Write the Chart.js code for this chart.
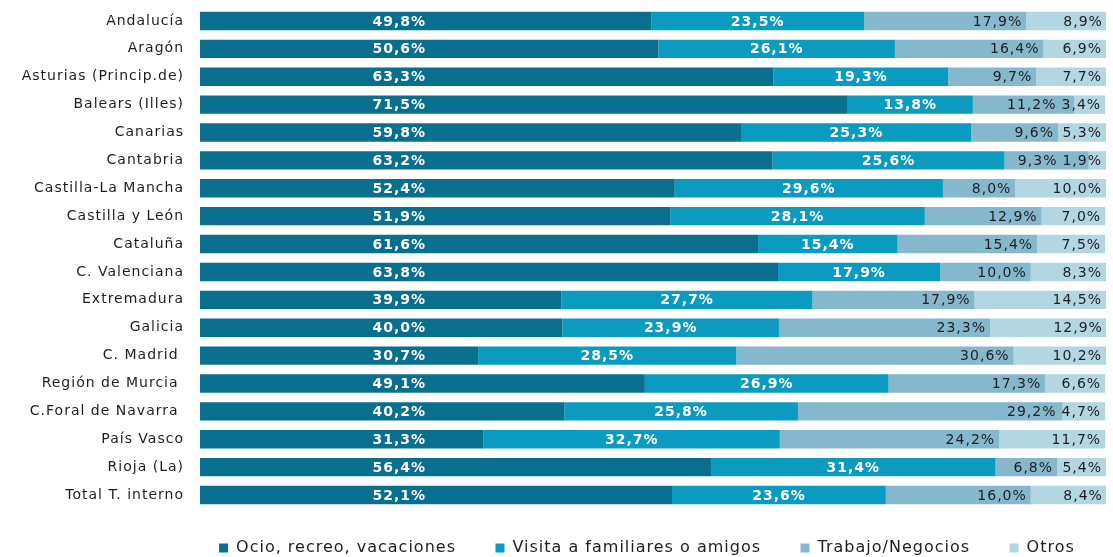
<!DOCTYPE html>
<html lang="es">
<head>
<meta charset="utf-8">
<title>Motivo del viaje por comunidad</title>
<script src="https://cdn.jsdelivr.net/npm/chart.js@4.4.1/dist/chart.umd.min.js"></script>
<style>
    html, body { margin: 0; padding: 0; background: #ffffff; }
    #wrap { width: 1113px; height: 557px; position: relative; }
</style>
</head>
<body>
<div id="wrap"><canvas id="motivoChart"></canvas></div>
<script>
// Datos (porcentaje por motivo del viaje)
const regiones = [
    'Andalucía', 'Aragón', 'Asturias (Princip.de)', 'Balears (Illes)', 'Canarias',
    'Cantabria', 'Castilla-La Mancha', 'Castilla y León', 'Cataluña', 'C. Valenciana',
    'Extremadura', 'Galicia', 'C. Madrid ', 'Región de Murcia ', 'C.Foral de Navarra ',
    'País Vasco', 'Rioja (La)', 'Total T. interno'
];
const ocio = [49.8, 50.6, 63.3, 71.5, 59.8, 63.2, 52.4, 51.9, 61.6, 63.8, 39.9, 40.0, 30.7, 49.1, 40.2, 31.3, 56.4, 52.1];
const visita = [23.5, 26.1, 19.3, 13.8, 25.3, 25.6, 29.6, 28.1, 15.4, 17.9, 27.7, 23.9, 28.5, 26.9, 25.8, 32.7, 31.4, 23.6];
const trabajo = [17.9, 16.4, 9.7, 11.2, 9.6, 9.3, 8.0, 12.9, 15.4, 10.0, 17.9, 23.3, 30.6, 17.3, 29.2, 24.2, 6.8, 16.0];
const otros = [8.9, 6.9, 7.7, 3.4, 5.3, 1.9, 10.0, 7.0, 7.5, 8.3, 14.5, 12.9, 10.2, 6.6, 4.7, 11.7, 5.4, 8.4];

const FONT = '"DejaVu Sans", Verdana, sans-serif';
const colores = ['#086f8f', '#0b9bc0', '#86b8cd', '#b3d6e3'];

function fmt(v) {
    return v.toFixed(1).replace('.', ',') + '%';
}

// espaciado de letras como en el original
const letterSpacing = {
    id: 'letterSpacing',
    beforeLayout(chart) { chart.ctx.letterSpacing = '1px'; },
    beforeDraw(chart) { chart.ctx.letterSpacing = '1px'; }
};

// Etiquetas de los segmentos
const barLabels = {
    id: 'barLabels',
    afterDatasetsDraw(chart) {
        const ctx = chart.ctx;
        const xScale = chart.scales.x;
        const metas = chart.data.datasets.map((d, i) => chart.getDatasetMeta(i));

        ctx.save();
        ctx.letterSpacing = '1px';
        ctx.textBaseline = 'middle';

        regiones.forEach((r, j) => {
            const y = metas[0].data[j].y + 1;

            // Ocio: blanco, negrita
            ctx.font = 'bold 14px ' + FONT;
            ctx.fillStyle = '#ffffff';
            ctx.textAlign = 'center';
            ctx.fillText(fmt(ocio[j]), xScale.getPixelForValue(22), y);

            // Visita: blanco, negrita, centrado en el segmento
            const b2 = metas[1].data[j];
            ctx.fillText(fmt(visita[j]), (b2.base + b2.x) / 2, y);

            // Otros y Trabajo: oscuro, alineado a la derecha
            ctx.font = '14px ' + FONT;
            ctx.fillStyle = '#1e1e1e';
            ctx.textAlign = 'right';
            const b4 = metas[3].data[j];
            const t4 = fmt(otros[j]);
            const x4 = b4.x - 4;
            ctx.fillText(t4, x4, y);
            const inicio4 = x4 - ctx.measureText(t4).width;

            const b3 = metas[2].data[j];
            const x3 = Math.min(b3.x - 4, inicio4 - 5);
            ctx.fillText(fmt(trabajo[j]), x3, y);
        });
        ctx.restore();
    }
};

function makeDataset(label, data, color) {
    return {
        label: label,
        data: data,
        backgroundColor: color,
        borderWidth: 0,
        barPercentage: 0.66,
        categoryPercentage: 1.0
    };
}

new Chart(document.getElementById('motivoChart'), {
    type: 'bar',
    data: {
        labels: regiones,
        datasets: [
            makeDataset('Ocio, recreo, vacaciones', ocio, colores[0]),
            makeDataset('Visita a familiares o amigos', visita, colores[1]),
            makeDataset('Trabajo/Negocios', trabajo, colores[2]),
            makeDataset('Otros', otros, colores[3])
        ]
    },
    options: {
        indexAxis: 'y',
        responsive: true,
        maintainAspectRatio: false,
        animation: false,
        layout: { padding: { top: 7, right: 7, bottom: -9, left: 0 } },
        scales: {
            x: {
                stacked: true,
                min: 0,
                max: 100,
                display: false
            },
            y: {
                stacked: true,
                grid: { display: false },
                border: { display: false },
                ticks: {
                    padding: 8,
                    color: '#1e1e1e',
                    font: { family: FONT, size: 14 }
                },
                afterFit(scale) {
                    scale.width = 200;
                    scale.paddingTop = 0;
                    scale.paddingBottom = 0;
                }
            }
        },
        plugins: {
            legend: {
                position: 'bottom',
                fullSize: false,
                title: {
                    display: true,
                    text: ' ',
                    font: { size: 10 },
                    padding: { top: 16, bottom: 0 }
                },
                labels: {
                    boxWidth: 9,
                    boxHeight: 9,
                    padding: 3,
                    color: '#1e1e1e',
                    font: { family: FONT, size: 16, lineHeight: 1 },
                    generateLabels(chart) {
                        const items = Chart.defaults.plugins.legend.labels.generateLabels(chart);
                        items.forEach((it, i) => {
                            it.text = it.text + (i < items.length - 1 ? '      ' : '  ');
                        });
                        return items;
                    }
                }
            },
            title: { display: false },
            tooltip: { enabled: false }
        }
    },
    plugins: [letterSpacing, barLabels]
});
</script>
</body>
</html>
